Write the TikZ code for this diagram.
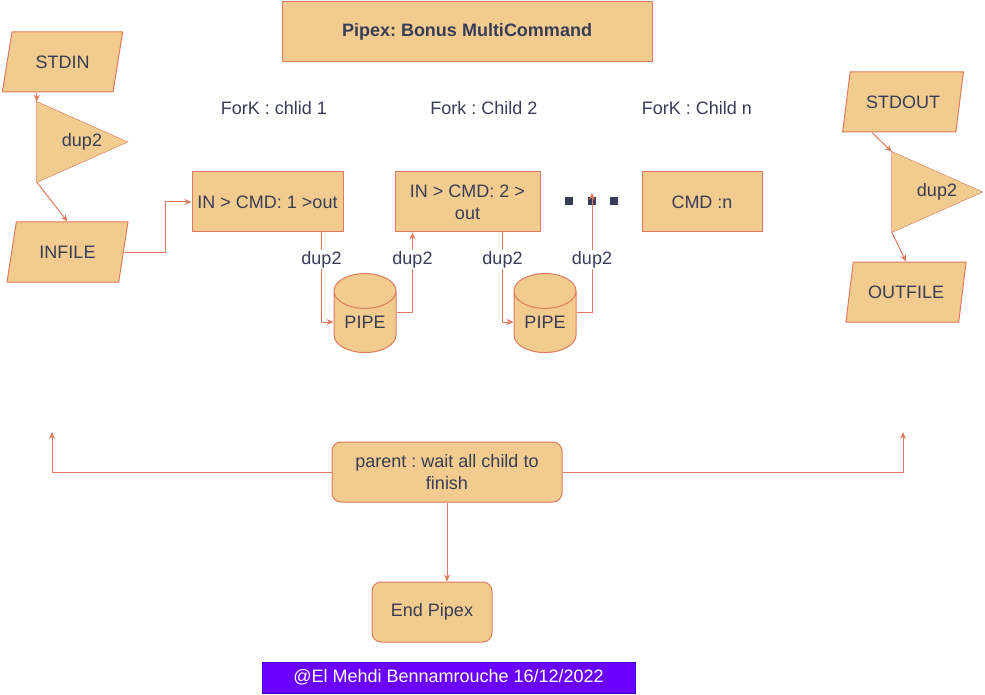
\documentclass[tikz,border=0pt]{standalone}
\usepackage{fontspec}
\setmainfont{Liberation Sans}
\usepackage{xcolor}
\usetikzlibrary{shapes.geometric,arrows.meta}
\definecolor{sand}{HTML}{F2CC8F}
\definecolor{rust}{HTML}{E07A5F}
\definecolor{ink}{HTML}{393C56}
\definecolor{violet}{HTML}{6A00FF}
\definecolor{violetdark}{HTML}{3700CC}
\frenchspacing

\begin{document}
\begin{tikzpicture}[
			x=1pt, y=-1pt,
			every node/.style={font=\fontsize{18}{22}\selectfont, text=ink},
			box/.style={draw=rust, fill=sand, line width=1pt, minimum height=60, inner sep=2pt, align=center},
			io/.style={box, trapezium, trapezium left angle=71.6, trapezium right angle=108.4,
					trapezium stretches, minimum width=121},
			tri/.style={minimum width=90, minimum height=80, inner sep=0,
					path picture={\fill[sand] (path picture bounding box.north west)
							-- (path picture bounding box.south west)
							-- (path picture bounding box.east) -- cycle;},
					append after command={\pgfextra{\draw[rust, line width=1pt]
								(\tikzlastnode.north west) -- (\tikzlastnode.south west)
								-- (\tikzlastnode.east) -- cycle;}}},
			pipe/.style={box, cylinder, shape border rotate=90, aspect=0.85,
					minimum width=62, minimum height=79, inner sep=0,
					cylinder uses custom fill, cylinder body fill=sand, cylinder end fill=sand},
			dot/.style={fill=ink, minimum size=8, inner sep=0},
			link/.style={draw=rust, line width=1pt, -{Stealth[length=7pt, width=6pt]}},
			lbl/.style={fill=white, inner sep=1pt}
		]
		\useasboundingbox (0,0) rectangle (985,695);

		\node[box, minimum width=370, font=\fontsize{18}{22}\selectfont\bfseries] (title) at (467,32) {Pipex: Bonus MultiCommand};

		\node[io] (stdin) at (62.5,62) {STDIN};
		\node[tri] (dupin) at (82,142) {dup2};
		\node[io] (infile) at (67.5,252) {INFILE};

		\node (fork1) at (274,108) {ForK : chlid 1};
		\node (fork2) at (484,108) {Fork : Child 2};
		\node (forkn) at (697,108) {ForK : Child n};

		\node[box, minimum width=151] (cmd1) at (267.5,202) {IN > CMD: 1 >out};
		\node[box, minimum width=145] (cmd2) at (467.5,202) {IN > CMD: 2 >\\out};
		\node[box, minimum width=120] (cmdn) at (702,202) {CMD :n};
		\node[dot] (dot1) at (569,201) {};
		\node[dot] (dot2) at (592,201) {};
		\node[dot] (dot3) at (614,201) {};

		\node[pipe] (pipe1) at (365,322) {PIPE};
		\node[pipe] (pipe2) at (545,322) {PIPE};

		\node[io] (stdout) at (903,102) {STDOUT};
		\node[tri] (dupout) at (937,192) {dup2};
		\node[io] (outfile) at (906,292) {OUTFILE};

		\node[box, minimum width=230, rounded corners=9] (parent) at (447,472) {parent : wait all child to\\finish};
		\node[box, minimum width=120, rounded corners=9] (endp) at (432,612) {End Pipex};
		\coordinate (up1) at (52,432);
		\coordinate (up2) at (903,432);

		\node[draw=violetdark, fill=violet, text=white, minimum width=373, minimum height=31] (credit) at (448.5,677.5) {@El Mehdi Bennamrouche 16/12/2022};

		\draw[link] (stdin.south -| dupin.north west) -- (dupin.north west);
		\draw[link] (dupin.south west) -- (infile.north);
		\draw[link] (infile.east) -- ++(42,0) |- (cmd1.west);

		\draw[link] ([xshift=54pt]cmd1.south) |- node[lbl, pos=0.15] {dup2} (pipe1.west |- 0,322);
		\draw[link] (pipe1.east |- 0,312) -| node[lbl, pos=0.83] {dup2} ([xshift=-55pt]cmd2.south);
		\draw[link] ([xshift=35pt]cmd2.south) |- node[lbl, pos=0.15] {dup2} (pipe2.west |- 0,322);
		\draw[link] (pipe2.east |- 0,312) -| node[lbl, pos=0.72] {dup2} ([yshift=4pt]dot2.north);

		\draw[link] ([xshift=-31pt]stdout.south) -- (dupout.north west);
		\draw[link] (dupout.south west) -- (outfile.north);

		\draw[link] (parent.west) -| (up1);
		\draw[link] (parent.east) -| (up2);
		\draw[link] (parent.south) -- (parent.south |- endp.north);
	\end{tikzpicture}
\end{document}
